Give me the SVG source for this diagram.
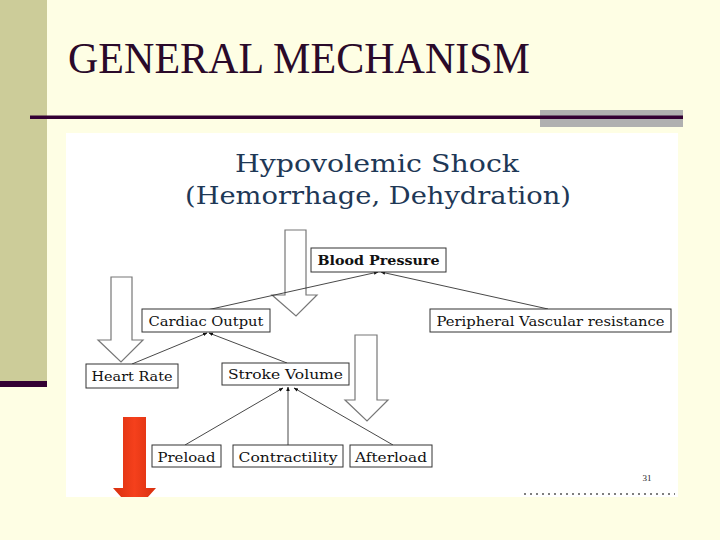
<svg xmlns="http://www.w3.org/2000/svg" width="720" height="540" viewBox="0 0 720 540">
<defs>
<style>
.box{fill:#fff;stroke:#333;stroke-width:1}
.lbl{font-family:"DejaVu Serif","Liberation Serif",serif;font-size:13px;fill:#111;text-anchor:middle}
.conn{stroke:#333;stroke-width:0.9;fill:none;marker-end:url(#ah)}
.hollow{fill:#fff;stroke:#777;stroke-width:1.2}
</style>
<marker id="ah" viewBox="0 0 10 10" refX="9" refY="5" markerWidth="5" markerHeight="5" orient="auto">
<path d="M0,1 L10,5 L0,9 z" fill="#111"/>
</marker>
<linearGradient id="red" x1="0" x2="1" y1="0" y2="0">
<stop offset="0" stop-color="#d8300f"/>
<stop offset="0.5" stop-color="#f5401c"/>
<stop offset="1" stop-color="#d8300f"/>
</linearGradient>
<clipPath id="img"><rect x="66" y="133" width="612" height="364"/></clipPath>
</defs>
<rect width="720" height="540" fill="#fefee4"/>
<rect x="0" y="0" width="47" height="383" fill="#cccc99"/>
<rect x="0" y="381" width="47" height="6" fill="#330033"/>
<text x="68" y="73" font-family="Liberation Serif, serif" font-size="44" fill="#2a0a2a" textLength="462" lengthAdjust="spacingAndGlyphs">GENERAL MECHANISM</text>
<rect x="540" y="110" width="143" height="17" fill="#b0b0b0"/>
<rect x="30" y="115.5" width="653" height="3.5" fill="#330033"/>
<rect x="66" y="133" width="612" height="364" fill="#ffffff"/>
<text x="377" y="172" font-family="DejaVu Serif, serif" font-size="25" fill="#1e3856" text-anchor="middle" textLength="284" lengthAdjust="spacingAndGlyphs">Hypovolemic Shock</text>
<text x="378" y="204" font-family="DejaVu Serif, serif" font-size="25" fill="#1e3856" text-anchor="middle" textLength="386" lengthAdjust="spacingAndGlyphs">(Hemorrhage, Dehydration)</text>
<g id="arrow-bp"><polygon class="hollow" points="285,230 306,230 306,295 317,295 296,316 272,295 285,295"/></g>
<g id="arrow-hr"><polygon class="hollow" points="111,277 132,277 132,340 143,340 121,362 98,340 111,340"/></g>
<g id="arrow-sv"><polygon class="hollow" points="355,335 377,335 377,400 388,400 367,421 345,400 355,400"/></g>
<g id="arrow-red" clip-path="url(#img)"><polygon fill="url(#red)" points="123,417 146,417 146,488 156,488 134.5,512 113,488 123,488"/></g>
<g id="connectors">
<line class="conn" x1="207" y1="310" x2="378" y2="272"/>
<line class="conn" x1="548" y1="309" x2="381" y2="272"/>
<line class="conn" x1="132" y1="364" x2="207" y2="333"/>
<line class="conn" x1="287" y1="363" x2="209" y2="333"/>
<line class="conn" x1="185" y1="445" x2="283" y2="388"/>
<line class="conn" x1="288" y1="445" x2="288" y2="387"/>
<line class="conn" x1="393" y1="445" x2="294" y2="388"/>
</g>
<g id="blood-pressure"><rect class="box" x="311" y="248" width="135" height="24"/><text class="lbl" x="378.5" y="265" font-weight="bold" textLength="122" lengthAdjust="spacingAndGlyphs">Blood Pressure</text></g>
<g id="cardiac-output"><rect class="box" x="142" y="309" width="128" height="23"/><text class="lbl" x="206" y="326" textLength="115" lengthAdjust="spacingAndGlyphs">Cardiac Output</text></g>
<g id="pvr"><rect class="box" x="430" y="309" width="241" height="23"/><text class="lbl" x="550.5" y="326" textLength="228" lengthAdjust="spacingAndGlyphs">Peripheral Vascular resistance</text></g>
<g id="heart-rate"><rect class="box" x="86" y="364" width="92" height="24"/><text class="lbl" x="132" y="381" textLength="81" lengthAdjust="spacingAndGlyphs">Heart Rate</text></g>
<g id="stroke-volume"><rect class="box" x="222" y="363" width="127" height="22"/><text class="lbl" x="285.5" y="379" textLength="115" lengthAdjust="spacingAndGlyphs">Stroke Volume</text></g>
<g id="preload"><rect class="box" x="152" y="445" width="69" height="22"/><text class="lbl" x="186.5" y="462" textLength="58" lengthAdjust="spacingAndGlyphs">Preload</text></g>
<g id="contractility"><rect class="box" x="233" y="445" width="110" height="22"/><text class="lbl" x="288" y="462" textLength="99" lengthAdjust="spacingAndGlyphs">Contractility</text></g>
<g id="afterload"><rect class="box" x="350" y="445" width="82" height="22"/><text class="lbl" x="391" y="462" textLength="72" lengthAdjust="spacingAndGlyphs">Afterload</text></g>
<text x="647" y="481" font-family="Liberation Serif, serif" font-size="9" fill="#222" text-anchor="middle">31</text>
<line x1="524" y1="494" x2="675" y2="494" stroke="#555" stroke-width="1.5" stroke-dasharray="2,4"/>
</svg>
